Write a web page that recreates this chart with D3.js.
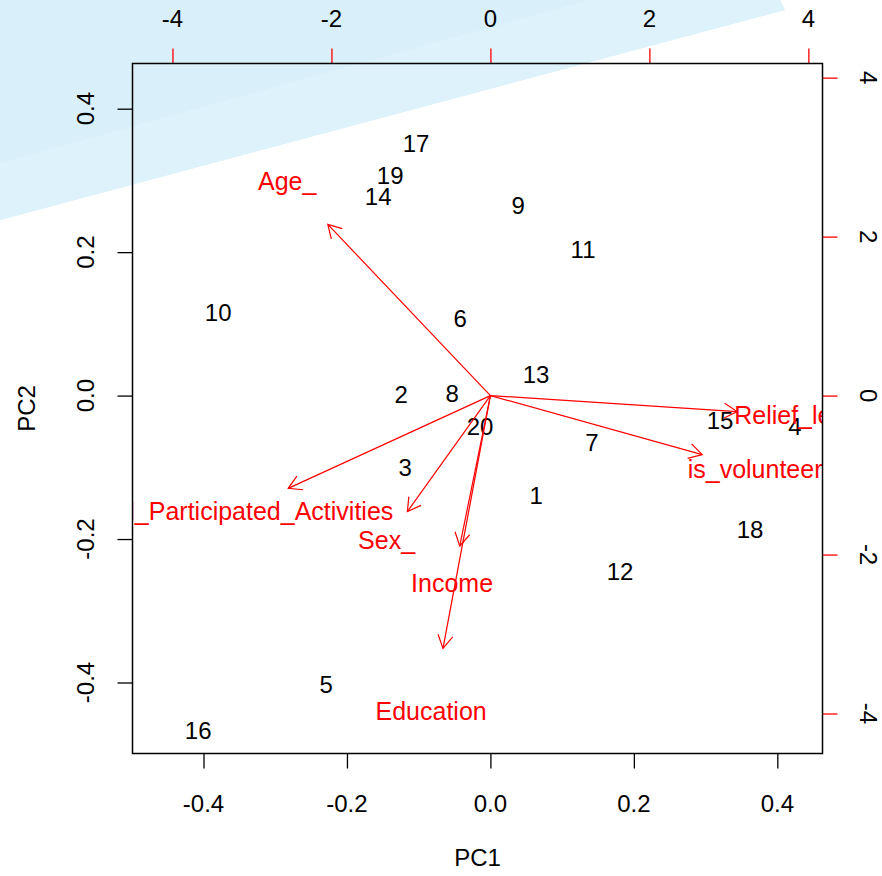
<!DOCTYPE html>
<html>
<head>
<meta charset="utf-8">
<script src="https://cdn.jsdelivr.net/npm/d3@7/dist/d3.min.js"></script>
<style>
  html, body { margin: 0; padding: 0; background: #ffffff; }
  svg { display: block; }
  text { font-family: "Liberation Sans", Arial, sans-serif; }
</style>
</head>
<body>
<svg id="chart" width="882" height="876"></svg>
<script>
// Observation scores on the first two principal components
const obsLabels = ["1","2","3","4","5","6","7","8","9","10",
                   "11","12","13","14","15","16","17","18","19","20"];
const pc1Scores = [0.0637, -0.1245, -0.1189, 0.4247, -0.2290, -0.0422, 0.1417, -0.0534, 0.0386, -0.3795,
                   0.1292, 0.1808, 0.0637, -0.1565, 0.3201, -0.4074, -0.1036, 0.3620, -0.1398, -0.0144];
const pc2Scores = [-0.1395, 0.0014, -0.1004, -0.0432, -0.4031, 0.1074, -0.0656, 0.0028, 0.2650, 0.1158,
                   0.2036, -0.2455, 0.0293, 0.2775, -0.0349, -0.4672, 0.3515, -0.1869, 0.3068, -0.0432];

// Variable loadings (label positions, in the loading axis units)
const varNames = ["Age_", "Sex_", "Education", "Income", "is_volunteer", "Relief_level", "Total_Participated_Activities"];
const varPC1 = [-2.557, -1.306, -0.746, -0.482, 3.330, 3.880, -3.180];
const varPC2 = [2.692, -1.824, -3.975, -2.365, -0.928, -0.252, -1.459];

// Tick values and labels
const scoreTicks = [-0.4, -0.2, 0.0, 0.2, 0.4];
const scoreTickLabels = ["-0.4", "-0.2", "0.0", "0.2", "0.4"];
const loadTicks = [-4, -2, 0, 2, 4];
const loadTickLabels = ["-4", "-2", "0", "2", "4"];

const xTitle = "PC1";
const yTitle = "PC2";

const svg = d3.select("#chart");
const box = { left: 132.5, right: 822.5, top: 63.5, bottom: 753.5 };
const fontSize = 24;
const varFontSize = 25;

// Light blue diagonal band behind the figure
const bg = svg.append("g");
bg.append("polygon")
  .attr("points", [[0,0],[780,0],[785,10],[0,220]].map(p => p.join(",")).join(" "))
  .attr("fill", "#d9eff9");
bg.append("polygon")
  .attr("points", [[0,163],[589,0],[780,0],[785,10],[0,220]].map(p => p.join(",")).join(" "))
  .attr("fill", "#ddf2fb");

// Score scales (bottom / left) and loading scales (top / right)
const scoreDomain = [-0.499, 0.463];
const loadDomain = [-4.503, 4.178];
const x = d3.scaleLinear().domain(scoreDomain).range([box.left, box.right]);
const y = d3.scaleLinear().domain(scoreDomain).range([box.bottom, box.top]);
const xl = d3.scaleLinear().domain(loadDomain).range([box.left, box.right]);
const yl = d3.scaleLinear().domain(loadDomain).range([box.bottom, box.top]);

const tickLen = 15;

function styleAxis(g, color) {
  g.select(".domain").remove();
  g.selectAll(".tick line").attr("stroke", color).attr("stroke-width", 1.3);
  g.selectAll(".tick text").remove();
}

// Bottom axis
svg.append("g").attr("transform", `translate(0,${box.bottom})`)
  .call(d3.axisBottom(x).tickValues(scoreTicks).tickSize(tickLen).tickFormat(""))
  .call(g => styleAxis(g, "#000"));
svg.append("g").selectAll("text").data(scoreTicks).join("text")
  .attr("x", d => x(d)).attr("y", 804).attr("dy", "0.35em")
  .attr("text-anchor", "middle").attr("font-size", fontSize).attr("fill", "#000")
  .text((d, i) => scoreTickLabels[i]);

// Left axis
svg.append("g").attr("transform", `translate(${box.left},0)`)
  .call(d3.axisLeft(y).tickValues(scoreTicks).tickSize(tickLen).tickFormat(""))
  .call(g => styleAxis(g, "#000"));
svg.append("g").selectAll("text").data(scoreTicks).join("text")
  .attr("transform", d => `translate(86,${y(d)}) rotate(-90)`)
  .attr("dy", "0.35em")
  .attr("text-anchor", "middle").attr("font-size", fontSize).attr("fill", "#000")
  .text((d, i) => scoreTickLabels[i]);

// Top axis (loadings)
svg.append("g").attr("transform", `translate(0,${box.top})`)
  .call(d3.axisTop(xl).tickValues(loadTicks).tickSize(tickLen).tickFormat(""))
  .call(g => styleAxis(g, "#ff0000"));
svg.append("g").selectAll("text").data(loadTicks).join("text")
  .attr("x", d => xl(d)).attr("y", 19).attr("dy", "0.35em")
  .attr("text-anchor", "middle").attr("font-size", fontSize).attr("fill", "#000")
  .text((d, i) => loadTickLabels[i]);

// Right axis (loadings)
svg.append("g").attr("transform", `translate(${box.right},0)`)
  .call(d3.axisRight(yl).tickValues(loadTicks).tickSize(tickLen).tickFormat(""))
  .call(g => styleAxis(g, "#ff0000"));
svg.append("g").selectAll("text").data(loadTicks).join("text")
  .attr("transform", d => `translate(868,${yl(d)}) rotate(90)`)
  .attr("dy", "0.35em")
  .attr("text-anchor", "middle").attr("font-size", fontSize).attr("fill", "#000")
  .text((d, i) => loadTickLabels[i]);

// Axis titles
svg.append("text")
  .attr("x", (box.left + box.right) / 2).attr("y", 858).attr("dy", "0.35em")
  .attr("text-anchor", "middle").attr("font-size", fontSize).attr("fill", "#000")
  .text(xTitle);
svg.append("text")
  .attr("transform", `translate(27,${(box.top + box.bottom) / 2}) rotate(-90)`)
  .attr("dy", "0.35em")
  .attr("text-anchor", "middle").attr("font-size", fontSize).attr("fill", "#000")
  .text(yTitle);

// Clip marks to the plotting region
svg.append("defs").append("clipPath").attr("id", "plotClip")
  .append("rect")
  .attr("x", box.left).attr("y", box.top)
  .attr("width", box.right - box.left).attr("height", box.bottom - box.top);

const plot = svg.append("g").attr("clip-path", "url(#plotClip)");

// Observation labels
const obs = obsLabels.map((lab, i) => ({ lab, px: pc1Scores[i], py: pc2Scores[i] }));
plot.append("g").selectAll("text").data(obs).join("text")
  .attr("x", d => x(d.px)).attr("y", d => y(d.py)).attr("dy", "0.35em")
  .attr("text-anchor", "middle").attr("font-size", fontSize).attr("fill", "#000")
  .text(d => d.lab);

// Loading arrows (drawn to 0.8 of the label position) and labels
const vars = varNames.map((name, i) => ({ name, vx: varPC1[i], vy: varPC2[i] }));
const headLen = 15, headAngle = Math.PI / 6;
const arrows = plot.append("g").attr("stroke", "#ff0000").attr("stroke-width", 1.2).attr("fill", "none");
vars.forEach(v => {
  const x0 = xl(0), y0 = yl(0);
  const x1 = xl(v.vx * 0.8), y1 = yl(v.vy * 0.8);
  const ang = Math.atan2(y1 - y0, x1 - x0);
  const b1 = [x1 - headLen * Math.cos(ang - headAngle), y1 - headLen * Math.sin(ang - headAngle)];
  const b2 = [x1 - headLen * Math.cos(ang + headAngle), y1 - headLen * Math.sin(ang + headAngle)];
  arrows.append("line").attr("x1", x0).attr("y1", y0).attr("x2", x1).attr("y2", y1);
  arrows.append("path").attr("d", `M${b1[0]},${b1[1]}L${x1},${y1}L${b2[0]},${b2[1]}`);
});
plot.append("g").selectAll("text").data(vars).join("text")
  .attr("x", d => xl(d.vx)).attr("y", d => yl(d.vy)).attr("dy", "0.35em")
  .attr("text-anchor", "middle").attr("font-size", varFontSize).attr("fill", "#ff0000")
  .text(d => d.name);

// Plot frame
svg.append("rect")
  .attr("x", box.left).attr("y", box.top)
  .attr("width", box.right - box.left).attr("height", box.bottom - box.top)
  .attr("fill", "none").attr("stroke", "#000").attr("stroke-width", 1.5);
</script>
</body>
</html>
